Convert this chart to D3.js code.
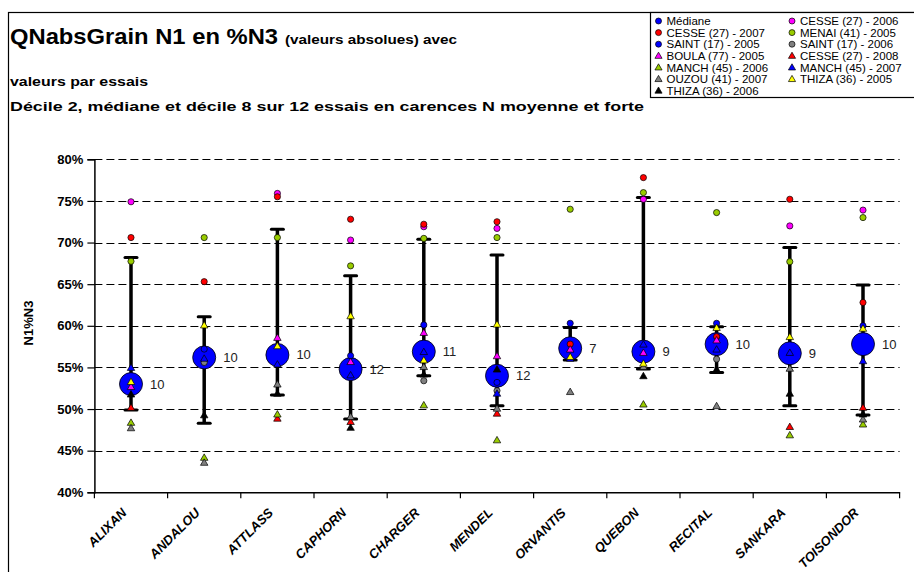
<!DOCTYPE html>
<html><head><meta charset="utf-8">
<script src="https://cdn.jsdelivr.net/npm/d3@7"></script>
<style>body{margin:0;background:#fff}svg{display:block;font-family:"Liberation Sans",Arial,sans-serif}</style>
</head><body><svg id="c" width="914" height="572"></svg>
<script>
const categories = ["ALIXAN","ANDALOU","ATTLASS","CAPHORN","CHARGER","MENDEL","ORVANTIS","QUEBON","RECITAL","SANKARA","TOISONDOR"];
const medians  = [53.0,56.2,56.5,54.8,56.9,54.0,57.3,56.9,57.8,56.7,57.8];
const counts   = [10,10,10,12,11,12,7,9,10,9,10];
const decile2  = [49.9,48.3,51.7,48.8,54.0,50.4,55.9,54.8,54.4,50.4,49.3];
const decile8  = [68.2,61.1,71.6,66.0,70.4,68.5,59.8,75.4,59.9,69.4,64.9];
const yTicks   = [40,45,50,55,60,65,70,75,80];

// individual trials (null = no value)
const cesse2006 = [74.9,null,75.9,70.3,71.9,71.7,null,75.2,null,72.0,73.9];
const cesse2007 = [70.6,65.3,75.5,72.8,72.2,72.5,57.8,77.8,58.7,75.2,62.8];
const menai2005 = [67.75,70.6,70.6,67.2,70.5,70.6,74.0,76.0,73.6,67.7,73.0];
const saint2005 = [null,57.2,null,56.4,60.1,53.2,60.3,null,60.3,null,60.0];
const saint2006 = [null,55.6,null,null,53.4,52.2,null,null,56.0,null,null];
const boula2005 = [52.6,null,58.5,55.6,59.1,56.3,57.1,56.7,58.2,null,null];
const cesse2008 = [50.1,null,48.8,48.4,null,49.4,null,null,null,47.8,50.1];
const manch2006 = [48.3,44.1,49.3,null,50.4,46.2,null,50.5,null,46.8,48.1];
const manch2007 = [54.9,56.0,55.3,54.0,56.8,51.8,56.0,57.7,57.1,56.7,55.7];
const ouzou2007 = [47.65,43.5,52.9,49.0,55.0,50.0,52.0,55.0,50.3,54.8,48.7];
const thiza2005 = [53.2,60.0,57.5,61.1,55.8,60.1,56.2,55.4,59.7,58.6,59.6];
const thiza2006 = [51.7,49.2,51.8,47.7,54.1,54.7,null,53.9,54.7,51.8,49.3];

const series = [
  {name:"CESSE (27) - 2006", values:cesse2006, shape:"circle", color:"#FF00FF"},
  {name:"CESSE (27) - 2007", values:cesse2007, shape:"circle", color:"#FF0000"},
  {name:"MENAI (41) - 2005", values:menai2005, shape:"circle", color:"#99CC00"},
  {name:"SAINT (17) - 2005", values:saint2005, shape:"circle", color:"#0000FF"},
  {name:"SAINT (17) - 2006", values:saint2006, shape:"circle", color:"#808080"},
  {name:"BOULA (77) - 2005", values:boula2005, shape:"triangle", color:"#FF00FF"},
  {name:"CESSE (27) - 2008", values:cesse2008, shape:"triangle", color:"#FF0000"},
  {name:"MANCH (45) - 2006", values:manch2006, shape:"triangle", color:"#99CC00"},
  {name:"MANCH (45) - 2007", values:manch2007, shape:"triangle", color:"#0000FF"},
  {name:"OUZOU (41) - 2007", values:ouzou2007, shape:"triangle", color:"#808080"},
  {name:"THIZA (36) - 2005", values:thiza2005, shape:"triangle", color:"#FFFF00"},
  {name:"THIZA (36) - 2006", values:thiza2006, shape:"triangle", color:"#000000"}
];
const legendLeft  = ["Médiane","CESSE (27) - 2007","SAINT (17) - 2005","BOULA (77) - 2005","MANCH (45) - 2006","OUZOU (41) - 2007","THIZA (36) - 2006"];
const legendRight = ["CESSE (27) - 2006","MENAI (41) - 2005","SAINT (17) - 2006","CESSE (27) - 2008","MANCH (45) - 2007","THIZA (36) - 2005"];

const svg = d3.select("#c");
const x = d3.scaleBand().domain(categories).range([94.4, 899.6]);
const y = d3.scaleLinear().domain([40, 80]).range([492.3, 159.3]);
const cx = c => x(c) + x.bandwidth()/2;
const tri = d3.symbol().type(d3.symbolTriangle).size(24);
const triLegend = d3.symbol().type(d3.symbolTriangle).size(22);

// outer frame
svg.append("rect").attr("x",8.5).attr("y",12.5).attr("width",950).attr("height",600)
  .attr("fill","none").attr("stroke","#000").attr("stroke-width",1.2);

// titles
svg.append("text").attr("x",10).attr("y",43.5).attr("font-size",22).attr("font-weight","bold")
  .attr("textLength",268).attr("lengthAdjust","spacingAndGlyphs").text("QNabsGrain N1 en %N3");
svg.append("text").attr("x",285).attr("y",43.5).attr("font-size",13).attr("font-weight","bold")
  .attr("textLength",172).attr("lengthAdjust","spacingAndGlyphs").text("(valeurs absolues) avec");
svg.append("text").attr("x",10).attr("y",86).attr("font-size",13).attr("font-weight","bold")
  .attr("textLength",138).attr("lengthAdjust","spacingAndGlyphs").text("valeurs par essais");
svg.append("text").attr("x",10).attr("y",111).attr("font-size",13).attr("font-weight","bold")
  .attr("textLength",634).attr("lengthAdjust","spacingAndGlyphs")
  .text("Décile 2, médiane et décile 8 sur 12 essais en carences N moyenne et forte");

// legend
const lg = svg.append("g");
lg.append("rect").attr("x",650.5).attr("y",12.5).attr("width",300).attr("height",85)
  .attr("fill","#fff").attr("stroke","#000").attr("stroke-width",1.2);
const styleOf = name => {
  if (name === "Médiane") return {shape:"circle", color:"#0000FF"};
  return series.find(d => d.name === name);
};
function legendCol(list, mx, tx) {
  list.forEach((name, i) => {
    const yy = 21 + i*11.6;
    const st = styleOf(name);
    if (st.shape === "circle") {
      lg.append("circle").attr("cx",mx).attr("cy",yy).attr("r",3).attr("fill",st.color)
        .attr("stroke","#000").attr("stroke-width",0.7);
    } else {
      lg.append("path").attr("d",triLegend).attr("transform",`translate(${mx},${yy+0.5})`)
        .attr("fill",st.color).attr("stroke","#000").attr("stroke-width",0.7);
    }
    lg.append("text").attr("x",tx).attr("y",yy+4.2).attr("font-size",11.5).text(name);
  });
}
legendCol(legendLeft, 658.5, 666.5);
legendCol(legendRight, 792, 800);

// gridlines
svg.append("g").selectAll("line").data(yTicks.filter(t => t > 40)).join("line")
  .attr("x1",94.4).attr("x2",899.6).attr("y1",d=>Math.round(y(d))+0.5).attr("y2",d=>Math.round(y(d))+0.5)
  .attr("stroke","#000").attr("stroke-width",1).attr("stroke-dasharray","8,4");

// y axis
const yAxis = d3.axisLeft(y).tickValues(yTicks).tickFormat(d => d + "%").tickSize(7).tickPadding(4);
const ya = svg.append("g").attr("transform","translate(94.4,0)").call(yAxis);
ya.select(".domain").attr("stroke","#000").attr("stroke-width",1.5);
ya.selectAll(".tick line").attr("stroke","#000").attr("stroke-width",1.2);
ya.selectAll(".tick text").attr("font-size",13).attr("font-weight","bold").attr("fill","#000")
  .attr("font-family","Liberation Sans, Arial, sans-serif");

// x axis
const xa = svg.append("g").attr("transform","translate(0,492.3)")
  .call(d3.axisBottom(x).tickSize(0).tickFormat(""));
xa.select(".domain").attr("stroke","#000").attr("stroke-width",1.5);
const bounds = categories.map(c => x(c)).concat([x.range()[1]]);
xa.selectAll(".bt").data(bounds).join("line").attr("class","bt")
  .attr("x1",d=>d).attr("x2",d=>d).attr("y1",0).attr("y2",6).attr("stroke","#000").attr("stroke-width",1.2);
svg.append("g").selectAll("text").data(categories).join("text")
  .attr("transform", d => `translate(${cx(d)-3.5},513.5) rotate(-45)`)
  .attr("text-anchor","end").attr("font-size",13).attr("font-weight","bold").attr("font-style","italic")
  .text(d => d);

// y axis title
svg.append("text").attr("transform","translate(33,323) rotate(-90)").attr("text-anchor","middle")
  .attr("font-size",13).attr("font-weight","bold").text("N1%N3");

// error bars (decile 2 - decile 8)
const eb = svg.append("g");
categories.forEach((c, i) => {
  eb.append("line").attr("x1",cx(c)).attr("x2",cx(c)).attr("y1",y(decile2[i])).attr("y2",y(decile8[i]))
    .attr("stroke","#000").attr("stroke-width",3.5);
  [decile2[i], decile8[i]].forEach(v => {
    eb.append("line").attr("x1",cx(c)-6).attr("x2",cx(c)+6).attr("y1",y(v)).attr("y2",y(v))
      .attr("stroke","#000").attr("stroke-width",3).attr("stroke-linecap","round");
  });
});

// medians
svg.append("g").selectAll("circle").data(categories).join("circle")
  .attr("cx", d => cx(d)).attr("cy", (d,i) => y(medians[i])).attr("r",11.5)
  .attr("fill","#0000FF").attr("stroke","#000").attr("stroke-width",0.8);
svg.append("g").selectAll("text").data(categories).join("text")
  .attr("x", d => cx(d)+19).attr("y", (d,i) => y(medians[i])+4.5)
  .attr("font-size",13).attr("fill","#222").text((d,i) => counts[i]);

// individual trial points
series.forEach(s => {
  const pts = categories.map((c,i) => ({c, v:s.values[i]})).filter(p => p.v !== null);
  const g = svg.append("g");
  if (s.shape === "circle") {
    g.selectAll("circle").data(pts).join("circle").attr("cx",p=>cx(p.c)).attr("cy",p=>y(p.v)).attr("r",3.1)
      .attr("fill",s.color).attr("stroke","#000").attr("stroke-width",0.7);
  } else {
    g.selectAll("path").data(pts).join("path").attr("d",tri)
      .attr("transform",p=>`translate(${cx(p.c)},${y(p.v)})`)
      .attr("fill",s.color).attr("stroke","#000").attr("stroke-width",0.7);
  }
});
</script></body></html>
